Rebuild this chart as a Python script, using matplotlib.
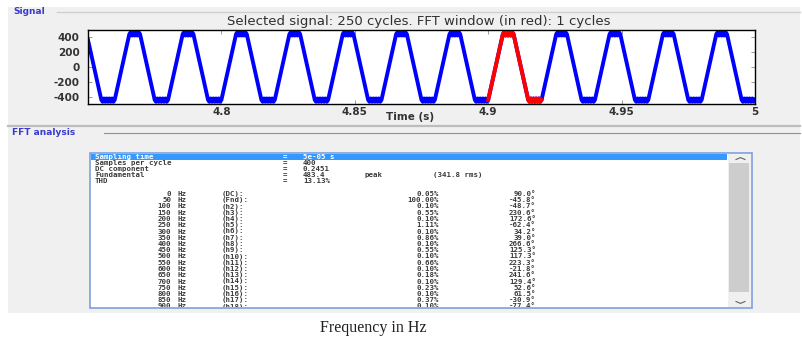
import numpy as np
import matplotlib
matplotlib.use("Agg")
import matplotlib.pyplot as plt
from matplotlib.patches import Rectangle

# ---------------- data ----------------
# one period of the multilevel inverter output (V), sampled every 0.5 ms,
# starting half-way down the falling edge
cycle_levels = [364, 283, 202, 121, 40, -40, -121, -202, -283, -364,
                -445, -470, -425, -470, -425, -470, -425, -470, -425, -470,
                -445, -364, -283, -202, -121, -40, 40, 121, 202, 283,
                364, 445, 470, 425, 470, 425, 470, 425, 470, 445]
t_start = 4.75          # s
dt = 0.0005             # s
n_samples = 501
window_start, window_end = 4.90, 4.92   # FFT window (one cycle)

x_ticks = [4.8, 4.85, 4.9, 4.95, 5.0]
x_tick_labels = ["4.8", "4.85", "4.9", "4.95", "5"]
y_ticks = [-400, -200, 0, 200, 400]
y_tick_labels = ["-400", "-200", "0", "200", "400"]

title_text = "Selected signal: 250 cycles. FFT window (in red): 1 cycles"

sampling_time = "5e-05 s"
summary_labels = ["Samples per cycle", "DC component", "Fundamental", "THD"]
summary_values = ["400", "0.2451", "483.4", "13.13%"]
fundamental_extra = ["peak", "(341.8 rms)"]

harm_freqs = [0, 50, 100, 150, 200, 250, 300, 350, 400, 450, 500,
              550, 600, 650, 700, 750, 800, 850, 900]
harm_names = ["DC", "Fnd", "h2", "h3", "h4", "h5", "h6", "h7", "h8", "h9",
              "h10", "h11", "h12", "h13", "h14", "h15", "h16", "h17", "h18"]
harm_mag_pct = [0.05, 100.00, 0.10, 0.55, 0.10, 1.11, 0.10, 0.86, 0.10, 0.55,
                0.10, 0.66, 0.10, 0.18, 0.10, 0.23, 0.10, 0.37, 0.10]
harm_phase_deg = [90.0, -45.8, -48.7, 230.6, 172.6, -62.4, 34.2, 39.0, 266.6,
                  125.3, 117.3, 223.3, -21.8, 241.6, 129.4, 52.6, 61.5,
                  -30.9, -77.4]

# ---------------- figure ----------------
W, H = 803, 338
fig = plt.figure(figsize=(W / 100, H / 100), dpi=100, facecolor="white")


def frac_rect(x0, y0, x1, y1):
    """pixel box (top-left origin) -> figure fraction rect"""
    return [x0 / W, 1 - y1 / H, (x1 - x0) / W, (y1 - y0) / H]


# background layer in pixel coordinates
bg = fig.add_axes([0, 0, 1, 1], zorder=0)
bg.set_xlim(0, W)
bg.set_ylim(H, 0)
bg.axis("off")

panel_grey = "#f0f0f0"
label_blue = "#3a3ad0"
bg.add_patch(Rectangle((8, 7), 792, 306, facecolor=panel_grey, edgecolor="none"))

# "Signal" panel frame
bg.text(13, 11.5, "Signal", fontsize=6.5, fontweight="bold", color=label_blue,
        va="center", ha="left")
bg.plot([57, 800], [11.5, 11.5], color="#cfcfcf", lw=1.0)
bg.plot([8, 800], [125.5, 125.5], color="#bdbdbd", lw=1.6)

# "FFT analysis" panel frame
bg.text(12, 132.5, "FFT analysis", fontsize=6.5, fontweight="bold",
        color=label_blue, va="center", ha="left")
bg.plot([104, 800], [133, 133], color="#909090", lw=0.8)

# title of the signal plot
bg.text(419, 21.5, title_text, fontsize=9.5, color="#303030",
        ha="center", va="center")

# list box with scrollbar
bg.add_patch(Rectangle((90, 153), 662, 155, facecolor="white",
                       edgecolor="#7f9fdc", lw=1.2))
bg.add_patch(Rectangle((91, 153.6), 636, 6.0, facecolor="#3399ff",
                       edgecolor="none"))
bg.add_patch(Rectangle((728, 154), 23, 153, facecolor="#f0f0f0",
                       edgecolor="none"))
bg.add_patch(Rectangle((729.5, 163), 20, 129, facecolor="#cdcdcd",
                       edgecolor="none"))
bg.plot([736, 740.5, 745], [159.5, 157.6, 159.5], color="#606060", lw=0.8)
bg.plot([736, 740.5, 745], [301.5, 303.4, 301.5], color="#606060", lw=0.8)

# caption under the panel
bg.text(373, 327.5, "Frequency in Hz", fontsize=11.5, family="Liberation Serif",
        color="#202020", ha="center", va="center")

# ---------------- signal plot ----------------
t = t_start + dt * np.arange(n_samples)
signal = np.resize(np.array(cycle_levels, dtype=float), n_samples)
in_window = (t >= window_start - 1e-9) & (t <= window_end + 1e-9)

ax = fig.add_axes(frac_rect(88, 30, 755, 104), zorder=2)
ax.set_facecolor("white")
ax.plot(t, signal, color="#0000ff", lw=2.8)
ax.plot(t[in_window], signal[in_window], color="#ff0000", lw=2.8)
ax.set_xlim(4.75, 5.0)
ax.set_ylim(-500, 500)
ax.set_xticks(x_ticks)
ax.set_xticklabels(x_tick_labels, fontweight="bold")
ax.set_yticks(y_ticks)
ax.set_yticklabels(y_tick_labels, fontweight="bold")
ax.tick_params(direction="in", length=3, width=0.6, color="#8a8a8a",
               top=True, right=True, labelsize=7.5, labelcolor="#333333")
ax.tick_params(axis="x", pad=2)
ax.tick_params(axis="y", pad=6)
for s in ax.spines.values():
    s.set_color("black")
    s.set_linewidth(1.0)
ax.set_xlabel("Time (s)", fontsize=7.5, fontweight="bold", color="#333333",
              va="center")
ax.xaxis.set_label_coords((410 - 88) / 667, -(117.5 - 104) / 74)

# ---------------- FFT result list ----------------
lb = fig.add_axes(frac_rect(91, 153.6, 727, 307), zorder=3)
lb.set_xlim(91, 727)
lb.set_ylim(307, 153.6)
lb.axis("off")
lb.patch.set_visible(False)

mono = dict(family="DejaVu Sans Mono", fontweight="bold", fontsize=5.3,
            va="center", clip_on=True)
txt = "#3a3a3a"

lb.text(95, 156.6, "Sampling time", color="white", ha="left", **mono)
lb.text(283, 156.6, "=", color="white", ha="left", **mono)
lb.text(303, 156.6, sampling_time, color="white", ha="left", **mono)

row_y = [162.6, 168.8, 175.0, 181.2]
for y, lab, val in zip(row_y, summary_labels, summary_values):
    lb.text(95, y, lab, color=txt, ha="left", **mono)
    lb.text(283, y, "=", color=txt, ha="left", **mono)
    lb.text(303, y, val, color=txt, ha="left", **mono)
lb.text(365, row_y[2], fundamental_extra[0], color=txt, ha="left", **mono)
lb.text(433, row_y[2], fundamental_extra[1], color=txt, ha="left", **mono)

y0, step = 194.0, 6.25
for i, (f, n, m, p) in enumerate(zip(harm_freqs, harm_names,
                                     harm_mag_pct, harm_phase_deg)):
    y = y0 + i * step
    lb.text(171, y, f"{f}", color=txt, ha="right", **mono)
    lb.text(178, y, "Hz", color=txt, ha="left", **mono)
    lb.text(222, y, f"({n}):", color=txt, ha="left", **mono)
    lb.text(439, y, f"{m:.2f}%", color=txt, ha="right", **mono)
    lb.text(536, y, f"{p:.1f}\u00b0", color=txt, ha="right", **mono)

fig.savefig("out.png", dpi=100, facecolor="white")
